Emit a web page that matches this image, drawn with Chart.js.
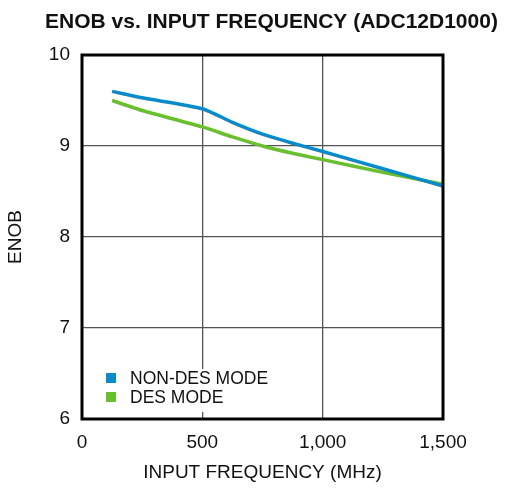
<!DOCTYPE html>
<html>
<head>
<meta charset="utf-8">
<script src="https://cdn.jsdelivr.net/npm/chart.js@4"></script>
<style>
  html, body { margin: 0; padding: 0; background: #fff; }
  #wrap { width: 506px; height: 489px; }
</style>
</head>
<body>
<div id="wrap"><canvas id="enobChart" width="506" height="489"></canvas></div>
<script>
const chartTitle = 'ENOB vs. INPUT FREQUENCY (ADC12D1000)';
const freqMHz = [125, 250, 500, 625, 750, 875, 1000, 1250, 1500];
const nonDesEnob = [9.60, 9.53, 9.41, 9.26, 9.13, 9.03, 8.94, 8.75, 8.56];
const desEnob = [9.50, 9.39, 9.21, 9.10, 9.00, 8.92, 8.85, 8.71, 8.58];
const seriesLabels = ['NON-DES MODE', 'DES MODE'];
const xTicks = [0, 500, 1000, 1500];
const yTicks = [6, 7, 8, 9, 10];

const FONT = '"Liberation Sans", Arial, sans-serif';

// title drawn above the plot box
const titlePlugin = {
    id: 'topTitle',
    afterDraw(chart) {
        const c = chart.ctx;
        c.save();
        c.font = 'bold 21px ' + FONT;
        c.fillStyle = '#111';
        c.textAlign = 'center';
        c.textBaseline = 'middle';
        c.fillText(chartTitle, 271.5, 22);
        c.restore();
    }
};

// black frame round the plot + legend inside lower left
const framePlugin = {
    id: 'frameAndLegend',
    afterDatasetsDraw(chart) {
        const c = chart.ctx;
        const a = chart.chartArea;
        c.save();
        // legend block
        c.fillStyle = '#fff';
        c.fillRect(a.left + 20, a.bottom - 50, 170, 43);
        c.font = '17.5px ' + FONT;
        c.textBaseline = 'middle';
        chart.data.datasets.forEach((ds, i) => {
            const y = a.bottom - 41 + i * 19;
            c.fillStyle = ds.borderColor;
            c.fillRect(a.left + 24, y - 5, 10, 10);
            c.fillStyle = '#111';
            c.fillText(ds.label, a.left + 48, y + 1);
        });
        // frame
        c.strokeStyle = '#000';
        c.lineWidth = 3;
        c.strokeRect(a.left, a.top, a.right - a.left, a.bottom - a.top);
        c.restore();
    }
};

const ctx = document.getElementById('enobChart').getContext('2d');
const enobChart = new Chart(ctx, {
    type: 'line',
    data: {
        datasets: [
            {
                label: seriesLabels[0],
                data: freqMHz.map((f, i) => ({ x: f, y: nonDesEnob[i] })),
                borderColor: '#0a8ac9',
                borderWidth: 3.5,
                pointRadius: 0,
                tension: 0.2,
                fill: false
            },
            {
                label: seriesLabels[1],
                data: freqMHz.map((f, i) => ({ x: f, y: desEnob[i] })),
                borderColor: '#6abf2e',
                borderWidth: 3.5,
                pointRadius: 0,
                tension: 0.2,
                fill: false
            }
        ]
    },
    options: {
        responsive: false,
        animation: false,
        layout: { padding: { top: 55, right: 63, left: 0, bottom: 0 } },
        scales: {
            x: {
                type: 'linear',
                min: 0,
                max: 1500,
                afterBuildTicks: s => { s.ticks = xTicks.map(v => ({ value: v })); },
                afterFit: s => { s.height = 70; s.paddingLeft = 0; s.paddingRight = 0; },
                ticks: {
                    color: '#111',
                    font: { family: FONT, size: 19 },
                    padding: 12,
                    maxRotation: 0,
                    callback: v => v.toLocaleString('en-US')
                },
                grid: { color: '#555', lineWidth: 1.3, drawTicks: false },
                border: { display: false },
                title: {
                    display: true,
                    text: 'INPUT FREQUENCY (MHz)',
                    color: '#111',
                    font: { family: FONT, size: 19 },
                    padding: { top: 0, bottom: 5 }
                }
            },
            y: {
                min: 6,
                max: 10,
                afterBuildTicks: s => { s.ticks = yTicks.map(v => ({ value: v })); },
                afterFit: s => { s.width = 82; s.paddingTop = 0; s.paddingBottom = 0; },
                ticks: {
                    color: '#111',
                    font: { family: FONT, size: 19 },
                    padding: 12
                },
                grid: { color: '#555', lineWidth: 1.3, drawTicks: false },
                border: { display: false },
                title: {
                    display: true,
                    text: 'ENOB',
                    color: '#111',
                    font: { family: FONT, size: 19 },
                    padding: { top: 4, bottom: 0 }
                }
            }
        },
        plugins: {
            legend: { display: false },
            tooltip: { enabled: false }
        }
    },
    plugins: [titlePlugin, framePlugin]
});
</script>
</body>
</html>
